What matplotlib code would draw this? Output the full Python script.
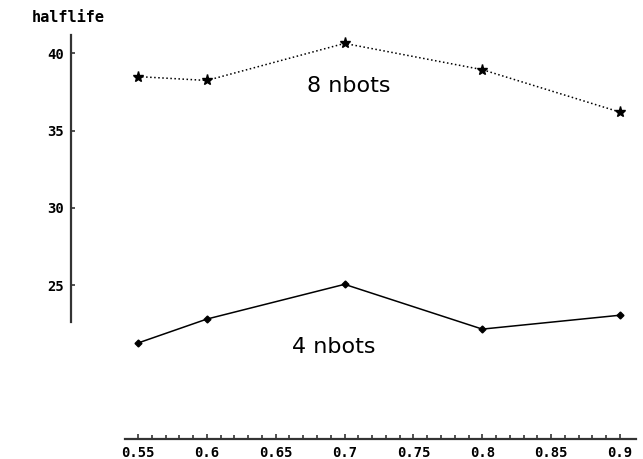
import numpy as np
import matplotlib.pyplot as plt
from matplotlib.ticker import FixedLocator

# mean halflife per setting
x = [0.55, 0.6, 0.7, 0.8, 0.9]
nbots8 = [38.5, 38.25, 40.65, 38.95, 36.2]
nbots4 = [21.25, 22.8, 25.05, 22.15, 23.05]

xticks = [0.55, 0.6, 0.65, 0.7, 0.75, 0.8, 0.85, 0.9]
xticklabels = ['0.55', '0.6', '0.65', '0.7', '0.75', '0.8', '0.85', '0.9']
yticks = [25, 30, 35, 40]
yticklabels = ['25', '30', '35', '40']

fig = plt.figure(figsize=(6.43, 4.59), dpi=100)
ax = fig.add_axes([0, 0, 1, 1])
ax.set_xlim(0.4498, 0.9167)
ax.set_ylim(13.74, 43.46)

ax.plot(x, nbots8, color='black', linestyle=':', linewidth=1.1,
        marker='*', markersize=8)
ax.plot(x, nbots4, color='black', linestyle='-', linewidth=1.1,
        marker='D', markersize=3.5)

ax.text(0.703, 37.9, '8 nbots', fontsize=16, ha='center', va='center')
ax.text(0.692, 21.0, '4 nbots', fontsize=16, ha='center', va='center')

# axes drawn apart, the way the original program put them
axcol = '#333333'
for s in ['top', 'right']:
    ax.spines[s].set_visible(False)
ax.spines['left'].set_position(('data', 0.5015))
ax.spines['left'].set_bounds(22.61, 41.19)
ax.spines['bottom'].set_position(('data', 15.05))
ax.spines['bottom'].set_bounds(0.5406, 0.9117)
for s in ['left', 'bottom']:
    ax.spines[s].set_color(axcol)
    ax.spines[s].set_linewidth(1.6)

ax.set_xticks(xticks)
ax.set_xticklabels(xticklabels)
ax.xaxis.set_minor_locator(FixedLocator(np.arange(0.55, 0.905, 0.01)))
ax.set_yticks(yticks)
ax.set_yticklabels(yticklabels)

mono = dict(family='DejaVu Sans Mono', weight='bold', size=10)
for lab in ax.get_xticklabels() + ax.get_yticklabels():
    lab.set_fontproperties(mono)

ax.tick_params(axis='both', which='both', direction='in', color=axcol, width=1.2)
ax.tick_params(axis='x', which='major', length=3.5, pad=5)
ax.tick_params(axis='x', which='minor', length=3)
ax.tick_params(axis='y', which='major', length=3, pad=5)

ax.text(0.4992, 42.3, 'halflife', ha='center', va='center',
        family='DejaVu Sans Mono', weight='bold', size=11)

fig.savefig('out.png', dpi=100)
